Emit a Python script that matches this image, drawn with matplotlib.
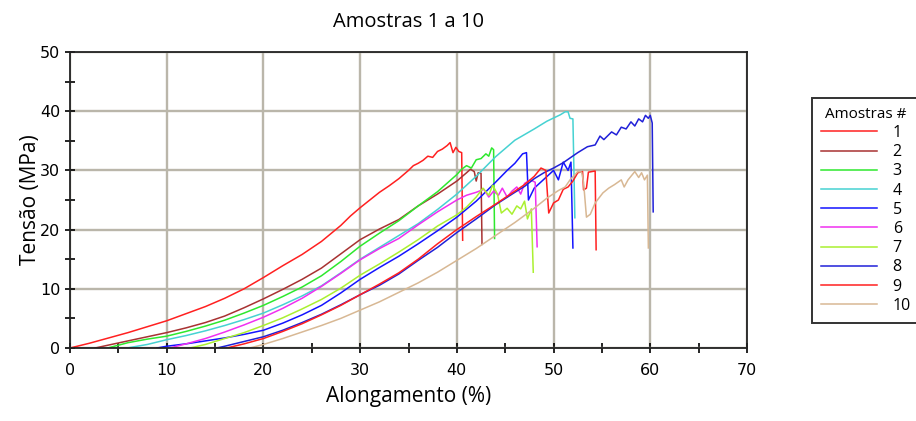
import matplotlib
matplotlib.use("Agg")
import matplotlib.pyplot as plt
from matplotlib.ticker import MultipleLocator

# values: elongation (%) vs stress (MPa)
x1 = [0, 2, 4, 6, 8, 10, 12, 14, 16, 18, 20, 22, 24, 26, 28, 29, 30, 31, 32, 33, 34, 35,
      35.5, 36, 36.5, 37, 37.5, 38, 38.5, 39, 39.3, 39.6, 39.9, 40.2, 40.5, 40.6]
y1 = [0, 0.8, 1.7, 2.6, 3.6, 4.6, 5.8, 7.0, 8.4, 10.0, 11.9, 13.9, 15.8, 18.0, 20.7, 22.3,
      23.7, 25.0, 26.3, 27.4, 28.6, 30.0, 30.8, 31.2, 31.7, 32.4, 32.2, 33.2, 33.6, 34.2,
      34.7, 33.0, 33.9, 33.2, 33.0, 18.2]

x2 = [2.6, 4, 6, 8, 10, 12, 14, 16, 18, 20, 22, 24, 26, 28, 30, 32, 34, 36, 38, 40, 41,
      41.4, 41.8, 42.0, 42.2, 42.5, 42.6]
y2 = [0, 0.5, 1.2, 1.9, 2.6, 3.4, 4.3, 5.4, 6.8, 8.3, 9.9, 11.6, 13.5, 15.9, 18.3, 20.1,
      21.7, 24.0, 26.0, 28.2, 29.6, 30.2, 29.8, 28.2, 29.6, 29.5, 17.5]

x3 = [3.9, 6, 8, 10, 12, 14, 16, 18, 20, 22, 24, 26, 28, 30, 32, 34, 36, 38, 40, 40.5,
      41, 41.5, 42, 42.5, 43, 43.3, 43.6, 43.8, 43.9]
y3 = [0, 0.9, 1.5, 2.0, 2.8, 3.7, 4.7, 5.9, 7.2, 8.7, 10.3, 12.2, 14.6, 17.2, 19.4, 21.5,
      24.0, 26.4, 29.3, 30.2, 30.8, 30.4, 31.8, 32.0, 32.8, 32.4, 33.8, 33.5, 18.5]

x4 = [5.9, 8, 10, 12, 14, 16, 18, 20, 22, 24, 26, 28, 30, 32, 34, 36, 38, 40, 42, 44,
      46, 48, 49.3, 50.7, 51.2, 51.5, 51.7, 52.0, 52.2]
y4 = [0, 0.6, 1.4, 2.1, 2.9, 3.8, 4.8, 5.9, 7.3, 8.8, 10.5, 12.7, 15.0, 17.0, 19.0, 21.0,
      23.4, 26.0, 29.0, 32.3, 35.1, 37.0, 38.3, 39.4, 39.9, 39.9, 38.8, 38.7, 22.0]

x5 = [9, 10, 12, 14, 16, 18, 20, 22, 24, 26, 28, 30, 32, 34, 36, 38, 40, 42, 44, 45.2,
      46, 46.8, 47.2, 47.4, 48, 49, 50, 50.5, 51, 51.5, 51.8, 52.0]
y5 = [0, 0.3, 0.7, 1.2, 1.7, 2.3, 3.0, 4.2, 5.6, 7.2, 9.3, 11.6, 13.6, 15.5, 17.6, 19.8,
      22.1, 24.8, 28.0, 30.0, 31.2, 32.8, 33.0, 25.0, 27.0, 28.5, 30.0, 28.4, 31.4, 30.0,
      31.4, 16.9]

x6 = [10.3, 12, 14, 16, 18, 20, 22, 24, 26, 28, 30, 32, 34, 36, 38, 40, 41, 42, 42.8,
      43.3, 43.8, 44.3, 44.7, 45.2, 45.7, 46.2, 46.6, 47.0, 47.6, 48.1, 48.3]
y6 = [0, 0.7, 1.6, 2.7, 3.9, 5.2, 6.7, 8.4, 10.4, 12.6, 14.9, 16.8, 18.5, 20.8, 23.0, 25.0,
      25.8, 26.3, 26.8, 25.5, 26.5, 25.8, 27.0, 25.5, 26.5, 27.2, 26.0, 27.8, 28.4, 28.0, 17.1]

x7 = [12.4, 14, 16, 18, 20, 22, 24, 26, 28, 30, 32, 34, 36, 38, 40, 41, 42, 42.7, 43.3,
      43.7, 44.2, 44.6, 45.2, 45.7, 46.2, 46.6, 47.0, 47.3, 47.7, 47.9]
y7 = [0, 0.6, 1.6, 2.6, 3.8, 5.1, 6.6, 8.2, 10.1, 12.3, 14.2, 16.2, 18.3, 20.6, 22.5, 23.8,
      25.5, 27.0, 25.8, 27.5, 26.0, 22.8, 23.6, 22.6, 24.0, 23.5, 24.8, 21.8, 23.5, 12.8]

x8 = [15.2, 16, 18, 20, 22, 24, 26, 28, 30, 32, 34, 36, 38, 40, 42, 44, 46, 47, 48, 49,
      50, 51, 51.7, 52.5, 53.5, 54.3, 54.8, 55.2, 56, 56.5, 57, 57.5, 58, 58.4, 58.8, 59.2,
      59.5, 59.8, 60.0, 60.2, 60.3]
y8 = [0, 0.3, 1.1, 1.9, 3.0, 4.3, 5.7, 7.3, 9.0, 10.6, 12.5, 14.8, 17.0, 19.5, 21.8, 24.2,
      26.3, 27.3, 28.6, 29.6, 30.4, 31.3, 32.1, 33.0, 34.0, 34.3, 35.8, 35.2, 36.5, 36.0,
      37.3, 37.0, 38.2, 37.5, 38.7, 38.2, 39.3, 38.8, 39.3, 38.0, 23.0]

x9 = [16.2, 18, 20, 22, 24, 26, 28, 30, 32, 34, 36, 38, 40, 42, 44, 46, 47, 48, 48.7,
      49.2, 49.5, 50, 50.5, 51, 51.5, 52, 52.5, 53, 53.1, 53.4, 53.6, 54.3, 54.4]
y9 = [0, 0.7, 1.6, 2.8, 4.1, 5.6, 7.2, 9.0, 10.8, 12.7, 15.0, 17.6, 20.0, 22.2, 24.3, 26.5,
      27.6, 29.0, 30.4, 30.0, 22.8, 24.5, 25.0, 26.8, 27.2, 28.2, 29.6, 29.8, 26.7, 27.0,
      29.7, 29.9, 16.6]

x10 = [18.6, 20, 22, 24, 26, 28, 30, 32, 34, 36, 38, 40, 42, 44, 46, 48, 49.3, 50.5, 51.2,
       51.7, 52.5, 52.9, 53.1, 53.4, 53.8, 54.3, 55.1, 55.7, 56.3, 57.0, 57.3, 57.7, 58.4,
       58.8, 59.1, 59.4, 59.7, 59.8]
y10 = [0, 0.6, 1.6, 2.7, 3.8, 5.0, 6.4, 7.8, 9.4, 11.0, 12.8, 14.8, 16.8, 19.0, 21.2, 23.6,
       25.3, 26.6, 27.2, 28.4, 29.8, 29.7, 28.0, 22.1, 22.6, 24.5, 26.2, 27.0, 27.6, 28.4,
       27.2, 28.4, 29.8, 28.8, 29.6, 28.4, 29.2, 16.9]

labels = ["1", "2", "3", "4", "5", "6", "7", "8", "9", "10"]
colors = ["#ff2020", "#a83232", "#2ee82e", "#46d2d2", "#1414ff",
          "#f030f0", "#aaf030", "#2020d8", "#ff2020", "#d8b894"]
xs = [x1, x2, x3, x4, x5, x6, x7, x8, x9, x10]
ys = [y1, y2, y3, y4, y5, y6, y7, y8, y9, y10]

fig = plt.figure(figsize=(9.16, 4.21), dpi=100)
ax = fig.add_axes([70 / 916, 73 / 421, 677 / 916, 296 / 421])

for xx, yy, c, lab in zip(xs, ys, colors, labels):
    ax.plot(xx, yy, color=c, lw=1.1, label=lab)

ax.set_xlim(0, 70)
ax.set_ylim(0, 50)
ax.xaxis.set_major_locator(MultipleLocator(10))
ax.xaxis.set_minor_locator(MultipleLocator(5))
ax.yaxis.set_major_locator(MultipleLocator(10))
ax.yaxis.set_minor_locator(MultipleLocator(5))
ax.tick_params(which="both", direction="inout", length=7, width=1.2, labelsize=11.5)
ax.tick_params(axis="x", pad=7)
ax.grid(True, which="major", color="#bab6aa", lw=1.7)
ax.set_axisbelow(True)
for sp in ax.spines.values():
    sp.set_linewidth(1.3)
    sp.set_color("#222222")

ax.set_title("Amostras 1 a 10", fontsize=14.5, family="Open Sans", pad=18)
ax.set_xlabel("Alongamento (%)", fontsize=15, family="Open Sans", labelpad=6)
ax.set_ylabel("Tensão (MPa)", fontsize=15, family="Open Sans", labelpad=-1)

leg = ax.legend(title="Amostras #", loc="upper left",
                bbox_to_anchor=(812 / 916, 1 - 98 / 421), bbox_transform=fig.transFigure,
                borderaxespad=0, fontsize=11.5, title_fontsize=11, handlelength=3.5,
                handletextpad=1.0, labelspacing=0.2, borderpad=0.55, fancybox=False,
                framealpha=1, edgecolor="#333333")
leg.get_frame().set_linewidth(1.4)
for t in leg.get_texts():
    t.set_family("Open Sans")
leg.get_title().set_family("Open Sans")

fig.savefig("out.png", dpi=100)
